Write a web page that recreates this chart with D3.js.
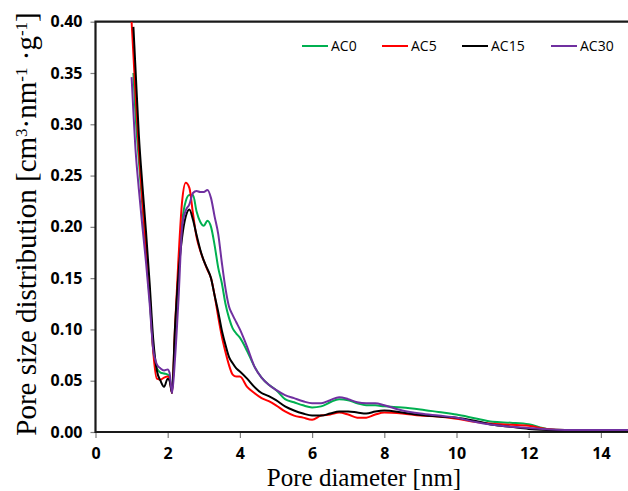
<!DOCTYPE html>
<html>
<head>
<meta charset="utf-8">
<script src="https://d3js.org/d3.v7.min.js"></script>
<style>
  body { margin: 0; background: #fff; }
  svg { display: block; }
  .tick text { font-family: "Open Sans", sans-serif; font-weight: bold; font-size: 16px; fill: #000; }
  .tick line { stroke: #7f7f7f; stroke-width: 1.2px; }
</style>
</head>
<body>
<div id="chart"></div>
<script>
// pore diameter grid (nm) shared by all series
const poreDiameter = [
  1.0, 1.05, 1.1, 1.2, 1.3, 1.4, 1.5, 1.6, 1.7, 1.8, 1.9,
  2.0, 2.05, 2.12, 2.2, 2.3, 2.4, 2.5, 2.6, 2.7, 2.8, 2.9,
  3.0, 3.1, 3.2, 3.3, 3.4, 3.5, 3.6, 3.7, 3.8, 3.9, 4.0,
  4.2, 4.4, 4.6, 4.8, 5.0, 5.25, 5.5, 5.75, 6.0, 6.25,
  6.5, 6.75, 7.0, 7.25, 7.5, 7.75, 8.0, 8.5, 9.0, 9.5,
  10.0, 10.5, 11.0, 11.5, 12.0, 12.5, 13.0, 14.0, 15.0
];
const ac0 = [
  null, 0.350, 0.315, 0.265, 0.220, 0.175, 0.130, 0.080, 0.062, 0.058, 0.057,
  0.056, 0.054, 0.040, 0.090, 0.160, 0.205, 0.225, 0.231, 0.231, 0.215, 0.205,
  0.201, 0.206, 0.200, 0.182, 0.160, 0.145, 0.125, 0.111, 0.101, 0.096, 0.092,
  0.079, 0.064, 0.053, 0.046, 0.041, 0.032, 0.029, 0.026, 0.024, 0.025,
  0.029, 0.032, 0.031, 0.028, 0.026, 0.026, 0.025, 0.024, 0.022, 0.0195,
  0.017, 0.0135, 0.010, 0.009, 0.0075, 0.003, 0.002, 0.002, 0.002
];
const ac5 = [
  0.400, 0.368, 0.335, 0.275, 0.225, 0.180, 0.135, 0.078, 0.052, 0.051, 0.053,
  0.054, 0.052, 0.038, 0.100, 0.170, 0.225, 0.243, 0.238, 0.213, 0.190, 0.177,
  0.167, 0.158, 0.150, 0.133, 0.112, 0.093, 0.078, 0.065, 0.056, 0.054, 0.054,
  0.044, 0.038, 0.033, 0.030, 0.026, 0.020, 0.016, 0.014, 0.012, 0.016,
  0.017, 0.019, 0.017, 0.014, 0.014, 0.017, 0.019, 0.018, 0.016, 0.015,
  0.013, 0.010, 0.008, 0.007, 0.006, 0.003, 0.002, 0.002, 0.002
];
const ac15 = [
  null, 0.395, 0.360, 0.290, 0.240, 0.195, 0.145, 0.090, 0.060, 0.050, 0.044,
  0.052, 0.050, 0.038, 0.100, 0.155, 0.190, 0.210, 0.217, 0.207, 0.192, 0.178,
  0.167, 0.159, 0.150, 0.133, 0.117, 0.099, 0.085, 0.073, 0.067, 0.062, 0.059,
  0.052, 0.044, 0.038, 0.035, 0.031, 0.025, 0.021, 0.018, 0.016, 0.016,
  0.018, 0.020, 0.020, 0.019, 0.018, 0.020, 0.021, 0.019, 0.0165, 0.015,
  0.014, 0.011, 0.007, 0.005, 0.003, 0.002, 0.0015, 0.0015, 0.0015
];
const ac30 = [
  0.346, 0.312, 0.280, 0.237, 0.200, 0.165, 0.125, 0.080, 0.066, 0.062, 0.060,
  0.061, 0.058, 0.038, 0.070, 0.130, 0.200, 0.216, 0.222, 0.233, 0.235, 0.234,
  0.234, 0.236, 0.228, 0.210, 0.193, 0.165, 0.140, 0.122, 0.114, 0.107, 0.100,
  0.083, 0.064, 0.053, 0.046, 0.041, 0.036, 0.033, 0.030, 0.028, 0.028,
  0.031, 0.034, 0.032, 0.029, 0.028, 0.028, 0.026, 0.021, 0.018, 0.016,
  0.014, 0.010, 0.007, 0.005, 0.004, 0.0026, 0.002, 0.002, 0.002
];
const seriesNames = ["AC0", "AC5", "AC15", "AC30"];
const seriesColors = ["#00b050", "#ff0000", "#000000", "#7030a0"];
const xTicks = [0, 2, 4, 6, 8, 10, 12, 14];
const yTicks = [0, 0.05, 0.10, 0.15, 0.20, 0.25, 0.30, 0.35, 0.40];

const width = 628, height = 491;
const plotLeft = 95.5, plotTop = 21.7, plotBottom = 432;

const svg = d3.select("#chart").append("svg")
  .attr("width", width).attr("height", height);

const x = d3.scaleLinear().domain([0, 15]).range([plotLeft, 637]);
const y = d3.scaleLinear().domain([0, 0.4]).range([plotBottom, plotTop]);

svg.append("defs").append("clipPath").attr("id", "plot")
  .append("rect").attr("x", plotLeft).attr("y", plotTop)
  .attr("width", width - plotLeft).attr("height", plotBottom - plotTop);

// axes
svg.append("g")
  .attr("transform", `translate(${plotLeft},0)`)
  .call(d3.axisLeft(y).tickValues(yTicks).tickFormat(d3.format(".2f")).tickSize(5).tickSizeOuter(0).tickPadding(8))
  .call(g => g.select(".domain").remove());
svg.append("g")
  .attr("transform", `translate(0,${plotBottom})`)
  .call(d3.axisBottom(x).tickValues(xTicks).tickSize(6).tickSizeOuter(0).tickPadding(10))
  .call(g => g.select(".domain").remove());

// frame: top, left, bottom
svg.append("path")
  .attr("d", `M${width},${plotTop}H${plotLeft}V${plotBottom}H${width}`)
  .attr("fill", "none").attr("stroke", "#1a1a1a").attr("stroke-width", 2.2);

// curves
const line = d3.line()
  .defined(d => d[1] != null)
  .x(d => x(d[0])).y(d => y(d[1]))
  .curve(d3.curveMonotoneX);
const allSeries = [ac0, ac5, ac15, ac30];
const g = svg.append("g").attr("clip-path", "url(#plot)");
allSeries.forEach((vals, i) => {
  g.append("path")
    .datum(poreDiameter.map((p, j) => [p, vals[j]]))
    .attr("d", line)
    .attr("fill", "none")
    .attr("stroke", seriesColors[i])
    .attr("stroke-width", 2)
    .attr("stroke-linejoin", "round");
});

// legend
const legendX = [302, 382, 462, 551];
const legend = svg.append("g");
seriesNames.forEach((name, i) => {
  legend.append("line")
    .attr("x1", legendX[i]).attr("x2", legendX[i] + 26)
    .attr("y1", 46).attr("y2", 46)
    .attr("stroke", seriesColors[i]).attr("stroke-width", 2);
  legend.append("text")
    .attr("x", legendX[i] + 29).attr("y", 51)
    .attr("font-family", "Open Sans, sans-serif")
    .attr("font-size", 14)
    .text(name);
});

// axis titles
svg.append("text")
  .attr("x", 364).attr("y", 486)
  .attr("text-anchor", "middle")
  .attr("font-family", "Liberation Serif, serif")
  .attr("font-size", 25)
  .text("Pore diameter [nm]");

const yt = svg.append("text")
  .attr("transform", "translate(36,224) rotate(-90)")
  .attr("text-anchor", "middle")
  .attr("font-family", "Liberation Serif, serif")
  .attr("font-size", 29);
yt.append("tspan").text("Pore size distribution [cm");
yt.append("tspan").attr("baseline-shift", "super").attr("font-size", 17).text("3");
yt.append("tspan").text("\u00b7nm");
yt.append("tspan").attr("baseline-shift", "super").attr("font-size", 17).text("-1");
yt.append("tspan").text(" \u00b7g");
yt.append("tspan").attr("baseline-shift", "super").attr("font-size", 17).text("-1");
yt.append("tspan").text("]");
</script>
</body>
</html>
